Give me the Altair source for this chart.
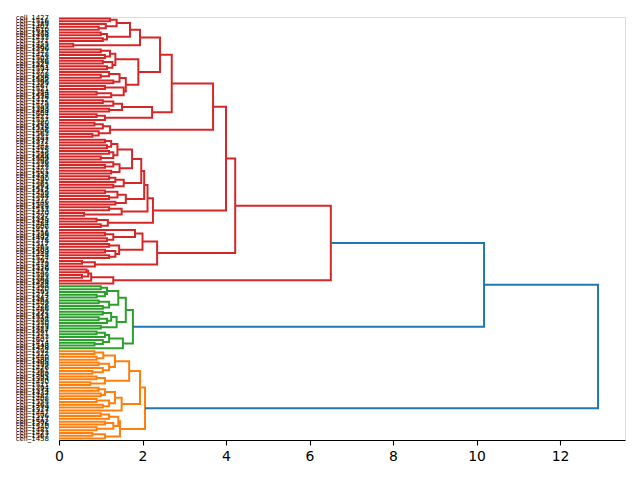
import altair as alt
import pandas as pd

L = "L"  # a leaf

# ---- merge heights above the colour threshold ----
ROOT_HEIGHT = 12.91
UPPER_HEIGHT = 10.18

# ---- red cluster (node = [height, upper child, lower child]) ----
R13 = [1.38, [1.22, L, L], [1.12, L, [0.95, L, L]]]
R14 = [1.15, [1.0, L, L], [1.05, L, L]]
R10 = [1.94, [1.70, R13, R14], [0.34, L, L]]
R11 = [1.90,
       [1.35, [1.22, [1.0, L, L], [1.1, L, L]], [1.28, [1.05, L, L], [1.15, L, L]]],
       [1.60, [1.45, [1.2, L, [1.0, L, L]], [1.3, L, L]], [1.55, [1.1, L, L], [1.25, [0.9, L, L], L]]]]
R9 = [2.23, [1.51, [1.3, [1.05, L, L], L], [1.2, L, L]], [1.10, [0.9, L, L], L]]
R7 = [1.22, [1.05, [0.85, L, L], L], [0.95, L, [0.8, L, L]]]
R4 = [3.69, [2.70, [2.42, R10, R11], R9], R7]
A1 = [1.40, [1.25, [1.1, L, L], [1.15, L, L]], [1.3, [1.2, L, L], [1.0, L, L]]]
A2 = [1.45, [1.3, L, [1.1, L, L]], [1.25, L, L]]
A3 = [1.55, [1.35, [1.2, L, L], L], [1.3, L, L]]
A4 = [1.60, [1.4, [1.1, L, L], [1.2, L, L]], [1.35, L, L]]
A5 = [1.50, [1.2, L, L], [0.6, L, L]]
R5 = [2.25, [2.12, [2.04, [1.97, [1.75, A1, A2], A3], A4], A5],
      [1.17, [0.9, L, L], [1.0, L, L]]]
R3 = [2.35,
      [2.00, [1.82, L, [1.3, [1.1, L, L], [1.15, L, L]]],
             [1.44, [1.2, L, L], [1.35, [1.1, L, L], [1.2, L, L]]]],
      [0.86, [0.55, L, L], L]]
R_SMALL = [1.30, [0.77, [0.70, [0.66, L, L], [0.55, L, L]], L], L]
RED = [6.51, [4.22, [4.00, R4, R5], R3], R_SMALL]

# ---- green cluster ----
GREEN = [1.77,
         [1.60,
          [1.42, [1.15, [1.0, L, L], [1.1, L, [0.9, L, L]]], [1.2, [0.95, L, L], [1.05, L, L]]],
          [1.38, [1.25, [1.05, L, L], [1.15, [0.95, L, L], L]], [1.0, L, L]]],
         [1.53, [1.2, [1.1, [0.9, L, L], L], [1.05, L, [0.85, L, L]]], L]]

# ---- orange cluster ----
ORANGE = [2.06,
          [1.94,
           [1.68,
            [1.34, [1.06, [0.85, L, L], [0.9, L, L]], [1.2, [0.95, L, L], [1.05, L, [0.8, L, L]]]],
            [1.1, [0.9, L, L], [0.75, L, L]]],
           [1.5, [1.34, [1.1, [0.95, L, L], [1.0, L, L]], [1.2, [0.9, L, L], [1.05, L, L]]], L]],
          [1.46,
           [1.42, [1.2, [1.0, L, L], L], [1.3, [1.1, L, L], [0.9, L, L]]],
           [1.1, [0.8, L, L], L]]]

# ---- leaf labels, top to bottom ----
LEAF_IDS = [
    1427, 1516, 1389, 1402, 1610, 1375, 1498, 1433, 1571, 1455,
    1462, 1390, 1547, 1418, 1503, 1386, 1529, 1441, 1594, 1377,
    1508, 1436, 1582, 1399, 1467, 1521, 1384, 1449, 1536, 1412,
    1475, 1559, 1393, 1488, 1604, 1421, 1537, 1380, 1452, 1519,
    1406, 1563, 1431, 1497, 1372, 1541, 1468, 1415, 1586, 1444,
    1509, 1396, 1528, 1473, 1401, 1552, 1437, 1490, 1381, 1565,
    1424, 1512, 1459, 1388, 1577, 1446, 1501, 1419, 1533, 1470,
    1397, 1545, 1428, 1484, 1606, 1411, 1556, 1439, 1492, 1378,
    1517, 1465, 1403, 1589, 1448, 1524, 1391, 1479, 1538, 1416,
    1457, 1599, 1383, 1506, 1434, 1568, 1420, 1495, 1374, 1543,
    1461, 1409, 1526, 1486, 1592, 1443, 1514, 1398, 1550, 1429,
    1472, 1387, 1531, 1453, 1601, 1414, 1548, 1478, 1392, 1522,
    1440, 1580, 1405, 1499, 1426, 1561, 1469, 1385, 1534, 1450,
    1511, 1394, 1574, 1432, 1487, 1408, 1555, 1463, 1379, 1527,
    1447, 1596, 1417, 1502, 1376, 1540, 1481, 1423, 1567, 1458,
]
LABELS = ["cell_%d" % n for n in LEAF_IDS]

COLOR_NAMES = ["red", "green", "orange", "blue"]
COLOR_HEX = ["#d62728", "#2ca02c", "#ff7f0e", "#1f77b4"]

N = len(LABELS)
link_rows = []
leaf_rows = []
counter = [0]


def add_link(ha, ya, h, hb, yb, color):
    lid = len(link_rows) // 4
    for o, (px, py) in enumerate([(ha, ya), (h, ya), (h, yb), (hb, yb)]):
        link_rows.append({"link": lid, "ord": o, "x": px, "y": py, "c": color})


def layout(node, color):
    if node == L:
        k = counter[0]
        counter[0] += 1
        y = 10 * (N - 1 - k) + 5
        leaf_rows.append({"y": y, "label": LABELS[k]})
        return 0.0, y
    h, a, b = node
    ha, ya = layout(a, color)
    hb, yb = layout(b, color)
    add_link(ha, ya, h, hb, yb, color)
    return h, (ya + yb) / 2


hr, yr = layout(RED, "red")
hg, yg = layout(GREEN, "green")
add_link(hr, yr, UPPER_HEIGHT, hg, yg, "blue")
y_up = (yr + yg) / 2
ho, yo = layout(ORANGE, "orange")
add_link(UPPER_HEIGHT, y_up, ROOT_HEIGHT, ho, yo, "blue")

links = pd.DataFrame(link_rows)
leaves = pd.DataFrame(leaf_rows)

xmax = ROOT_HEIGHT * 1.05
xscale = alt.Scale(domain=[0, xmax], nice=False, zero=False)
yscale = alt.Scale(domain=[0, 10 * N], nice=False, zero=False)

lines = alt.Chart(links).mark_line(strokeWidth=2, strokeJoin="miter", strokeCap="butt").encode(
    x=alt.X("x:Q", scale=xscale,
            axis=alt.Axis(values=[0, 2, 4, 6, 8, 10, 12], title=None, grid=False,
                          labelFontSize=13.9, labelFont="DejaVu Sans", labelColor="black",
                          tickColor="black", tickSize=5, tickWidth=1.1,
                          domainColor="black", domainWidth=1.1, labelPadding=4,
                          labelFlush=False)),
    y=alt.Y("y:Q", scale=yscale, axis=None),
    detail="link:N",
    order="ord:Q",
    color=alt.Color("c:N", scale=alt.Scale(domain=COLOR_NAMES, range=COLOR_HEX), legend=None),
)

texts = alt.Chart(leaves).mark_text(
    align="right", baseline="middle", dx=-10, fontSize=7, font="DejaVu Sans", color="black"
).encode(
    x=alt.value(0),
    y=alt.Y("y:Q", scale=yscale, axis=None),
    text="label:N",
)

chart = alt.layer(lines, texts).properties(
    width=566, height=423,
    autosize=alt.AutoSizeParams(type="none"),
    padding={"left": 59, "top": 17, "right": 15, "bottom": 40},
).configure_view(stroke="black", strokeWidth=1.1).configure(background="white")

chart.save("out.html", embed_options={"renderer": "svg", "actions": False})
